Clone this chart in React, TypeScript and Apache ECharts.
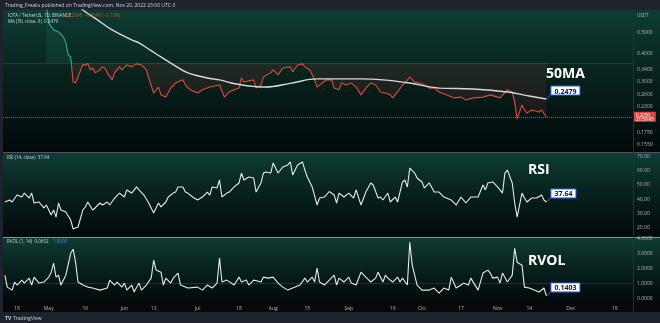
import React, { useEffect, useRef } from "react";
import * as echarts from "echarts";

// Day offsets are counted from 18 Apr 2022 (day 0); daily candles.
const timeTickDays = [0, 13, 28, 44, 56, 74, 91, 105, 119, 136, 154, 166, 182, 197, 210, 227, 245];
const timeTickLabels = ["18", "May", "16", "Jun", "13", "Jul", "18", "Aug", "15", "Sep", "19", "Oct", "17", "Nov", "14", "Dec", "19"];

const priceTicks = [0.155, 0.175, 0.23, 0.26, 0.3, 0.34, 0.4, 0.5];
const rsiTicks = [20, 30, 40, 50, 60, 70];
const rvolTicks = [0, 1, 2, 3, 4];

// [day, close] IOTA / TetherUS
const pricePoints: [number, number][] = [
  [12, 0.66], [13, 0.55], [15, 0.51], [17, 0.5], [19, 0.475], [20, 0.446], [21, 0.393], [22, 0.385],
  [23, 0.296], [24, 0.293], [25, 0.312], [27, 0.357], [28, 0.352], [29, 0.36], [30, 0.336], [31, 0.343],
  [32, 0.326], [34, 0.336], [35, 0.347], [36, 0.343], [37, 0.326], [39, 0.303], [40, 0.326], [42, 0.347],
  [43, 0.336], [45, 0.354], [47, 0.347], [49, 0.358], [51, 0.354], [53, 0.336], [56, 0.264], [58, 0.281],
  [59, 0.259], [61, 0.253], [63, 0.278], [65, 0.293], [68, 0.303], [69, 0.287], [71, 0.273], [74, 0.264],
  [76, 0.273], [79, 0.281], [83, 0.287], [85, 0.253], [87, 0.267], [89, 0.273], [91, 0.278], [92, 0.309],
  [93, 0.296], [97, 0.303], [98, 0.278], [100, 0.287], [101, 0.312], [104, 0.326], [105, 0.336], [107, 0.319],
  [109, 0.343], [112, 0.347], [113, 0.329], [115, 0.354], [117, 0.358], [118, 0.347], [120, 0.336], [122, 0.303],
  [123, 0.281], [125, 0.293], [127, 0.303], [129, 0.303], [130, 0.278], [132, 0.273], [133, 0.293], [135, 0.287],
  [137, 0.293], [139, 0.281], [141, 0.259], [143, 0.278], [145, 0.293], [147, 0.287], [149, 0.267], [151, 0.264],
  [153, 0.259], [154, 0.251], [156, 0.267], [158, 0.287], [159, 0.293], [161, 0.312], [163, 0.296], [165, 0.293],
  [167, 0.287], [169, 0.278], [171, 0.278], [173, 0.267], [176, 0.259], [179, 0.251], [182, 0.253], [184, 0.2455],
  [187, 0.251], [191, 0.253], [194, 0.259], [197, 0.253], [198, 0.251], [201, 0.273], [203, 0.267], [204, 0.24],
  [205, 0.201], [207, 0.233], [208, 0.221], [209, 0.214], [211, 0.221], [214, 0.2165], [215, 0.221], [217, 0.205],
];

// [day, MA(50)]
const ma50Points: [number, number][] = [
  [25, 0.665], [27, 0.629], [33, 0.567], [39, 0.511], [47, 0.46], [50, 0.446], [55, 0.411], [59, 0.385],
  [65, 0.35], [70, 0.326], [78, 0.309], [83, 0.303], [90, 0.29], [102, 0.281], [112, 0.292], [123, 0.306],
  [141, 0.306], [150, 0.303], [161, 0.293], [173, 0.278], [187, 0.2755], [201, 0.267], [210, 0.256], [217, 0.2479],
];

// [day, RSI(14)]
const rsiPoints: [number, number][] = [
  [-5, 37.6], [-3, 39.0], [-2, 37.6], [0, 42.5], [2, 41.1], [3, 43.9], [5, 40.4], [6, 43.9], [7, 36.9], [9, 37.6],
  [11, 33.4], [12, 35.5], [14, 28.5], [15, 32.0], [16, 27.0], [17, 36.9], [18, 32.0], [20, 30.6], [22, 24.9],
  [23, 18.6], [25, 20.0], [27, 32.0], [28, 34.1], [29, 37.6], [31, 32.0], [32, 33.4], [34, 36.9], [35, 35.5],
  [37, 37.6], [38, 35.5], [40, 40.4], [42, 43.9], [44, 41.1], [45, 46.1], [47, 43.9], [49, 48.2], [50, 46.1],
  [52, 42.5], [54, 36.9], [56, 29.9], [57, 33.4], [58, 36.9], [59, 34.1], [61, 37.6], [62, 41.1], [64, 43.9],
  [65, 44.6], [66, 48.2], [68, 48.2], [69, 44.6], [70, 43.9], [72, 41.1], [74, 39.0], [76, 41.1], [78, 44.6],
  [79, 42.5], [80, 48.2], [82, 47.5], [83, 53.1], [84, 41.1], [86, 43.9], [87, 44.6], [89, 48.2], [91, 51.0],
  [92, 58.0], [93, 53.1], [95, 55.2], [97, 54.5], [98, 44.6], [100, 51.0], [101, 58.0], [102, 58.7], [104, 58.0],
  [105, 65.1], [107, 58.0], [109, 62.3], [111, 63.7], [112, 65.8], [113, 56.6], [115, 63.7], [117, 65.8],
  [118, 60.1], [119, 55.2], [121, 48.2], [123, 35.5], [124, 40.4], [126, 41.1], [128, 45.0], [130, 42.5],
  [131, 36.9], [132, 43.9], [134, 41.1], [136, 43.9], [138, 40.4], [139, 46.1], [141, 35.5], [143, 44.6],
  [145, 51.0], [146, 49.6], [148, 40.4], [149, 41.1], [150, 39.0], [152, 43.9], [153, 37.6], [155, 41.1],
  [156, 37.6], [158, 51.7], [159, 53.1], [160, 48.2], [161, 61.5], [163, 58.0], [164, 54.5], [166, 51.7],
  [167, 47.5], [169, 51.0], [171, 44.6], [173, 44.6], [175, 41.1], [178, 39.0], [180, 35.5], [182, 41.1],
  [184, 36.9], [186, 41.1], [189, 41.1], [191, 49.6], [192, 46.1], [193, 51.0], [195, 51.7], [197, 48.2],
  [199, 43.9], [200, 58.0], [201, 60.1], [203, 51.0], [204, 36.9], [205, 27.0], [207, 43.9], [208, 40.4],
  [209, 37.6], [211, 40.4], [213, 40.4], [215, 42.5], [216, 39.0], [217, 37.64],
];

// [day, RVOL(1, 14)]
const rvolPoints: [number, number][] = [
  [-5, 1.53], [-4, 0.73], [-2, 0.53], [-1, 1.07], [0, 0.87], [2, 1.2], [3, 1.0], [5, 1.33], [6, 0.87], [7, 1.4],
  [9, 1.0], [11, 1.07], [13, 1.4], [14, 1.73], [15, 2.33], [16, 1.4], [17, 1.53], [18, 0.87], [20, 1.53],
  [22, 3.0], [23, 3.27], [24, 2.4], [25, 1.07], [27, 0.87], [29, 0.73], [31, 0.67], [34, 0.53], [37, 0.67],
  [38, 1.2], [40, 0.87], [41, 1.07], [43, 0.73], [44, 1.0], [45, 0.53], [47, 0.87], [48, 0.4], [50, 1.0],
  [51, 0.53], [53, 0.87], [55, 1.33], [56, 2.53], [57, 1.87], [59, 1.73], [60, 0.87], [61, 1.33], [63, 1.0],
  [64, 1.33], [66, 1.67], [67, 0.87], [70, 0.67], [74, 0.73], [76, 0.53], [78, 0.87], [80, 0.67], [82, 1.0],
  [83, 2.67], [84, 1.07], [86, 1.2], [89, 0.87], [91, 1.4], [92, 1.07], [94, 1.2], [95, 0.87], [97, 1.2],
  [100, 1.07], [101, 1.4], [103, 1.33], [105, 1.4], [107, 1.0], [109, 0.73], [111, 0.53], [113, 0.67],
  [116, 0.87], [118, 1.33], [119, 1.07], [121, 1.4], [122, 1.07], [123, 2.0], [124, 1.07], [126, 0.87],
  [128, 1.2], [130, 1.53], [131, 0.87], [132, 1.33], [134, 1.07], [136, 1.4], [137, 1.0], [139, 0.87],
  [141, 1.73], [143, 1.4], [145, 1.07], [147, 1.33], [148, 1.73], [150, 1.07], [151, 1.53], [152, 1.33],
  [154, 1.07], [156, 1.4], [157, 1.07], [158, 1.33], [160, 0.87], [161, 3.73], [162, 2.2], [163, 1.53],
  [164, 0.87], [166, 0.53], [169, 0.53], [171, 0.67], [173, 0.33], [175, 0.67], [177, 0.53], [178, 1.4],
  [180, 0.67], [182, 0.87], [183, 1.0], [185, 0.87], [186, 1.33], [189, 0.53], [191, 1.67], [193, 1.87],
  [194, 1.67], [195, 1.33], [197, 1.4], [198, 1.0], [199, 1.67], [201, 1.07], [203, 1.53], [204, 3.33],
  [205, 2.4], [207, 2.2], [208, 0.73], [210, 0.67], [212, 0.53], [214, 0.4], [216, 0.67], [217, 0.1403],
];

const LAST_PRICE = 0.205;
const BASELINE = 0.3615;

const GREEN = "#2fae92";
const RED = "#dc4a42";
const FONT = '"Open Sans", "DejaVu Sans", sans-serif';

export default function App() {
  const ref = useRef<HTMLDivElement>(null);

  useEffect(() => {
    const el = ref.current;
    if (!el) return;
    const chart = echarts.init(el, null, { renderer: "svg" });

    const xMin = -5.75;
    const xMax = 252.5;
    const grids = [
      { left: 3, right: 27, top: 10, height: 142 },
      { left: 3, right: 27, top: 153, height: 84 },
      { left: 3, right: 27, top: 238, height: 64 },
    ];
    const axisLabelBase = {
      color: "#b2b5be",
      fontSize: 5,
      fontFamily: FONT,
      margin: 4,
      showMinLabel: true,
      showMaxLabel: true,
    };
    const xAxes = grids.map((_, i) => ({
      type: "value",
      gridIndex: i,
      min: xMin,
      max: xMax,
      axisLine: { show: false },
      axisTick: { show: false },
      splitLine: { show: false },
      axisLabel:
        i === 2
          ? {
              ...axisLabelBase,
              margin: 3,
              customValues: timeTickDays,
              formatter: (v: number) => {
                const k = timeTickDays.indexOf(Math.round(v));
                return k >= 0 ? timeTickLabels[k] : "";
              },
            }
          : { show: false },
    }));
    const yCommon = {
      type: "value",
      position: "right",
      axisLine: { show: false },
      axisTick: { show: false },
      splitLine: { show: false },
    };
    const RVOL_MAX = 4.02;
    // the top RVOL tick sits on the pane edge, so it is drawn separately below
    const rvolInner = rvolTicks.filter((v) => v < 4);
    const rvolTop = rvolTicks.filter((v) => v >= 4);
    const yAxes = [
      {
        ...yCommon,
        gridIndex: 0,
        min: Math.log(0.1425),
        max: Math.log(0.629),
        axisLabel: {
          ...axisLabelBase,
          customValues: priceTicks.map((p) => Math.log(p)),
          formatter: (v: number) => Math.exp(v).toFixed(4),
        },
      },
      {
        ...yCommon,
        gridIndex: 1,
        min: 12.96,
        max: 72.1,
        axisLabel: { ...axisLabelBase, customValues: rsiTicks, formatter: (v: number) => v.toFixed(2) },
      },
      {
        ...yCommon,
        gridIndex: 2,
        min: -0.267,
        max: RVOL_MAX,
        axisLabel: { ...axisLabelBase, customValues: rvolInner, formatter: (v: number) => v.toFixed(4) },
      },
    ];

    chart.setOption({
      animation: false,
      backgroundColor: "transparent",
      grid: grids,
      xAxis: xAxes,
      yAxis: yAxes,
      visualMap: {
        type: "piecewise",
        show: false,
        seriesIndex: 0,
        dimension: 1,
        pieces: [
          { gt: Math.log(BASELINE), lte: Math.log(2), color: GREEN },
          { gt: Math.log(0.05), lte: Math.log(BASELINE), color: RED },
        ],
      },
      series: [
        {
          type: "line",
          xAxisIndex: 0,
          yAxisIndex: 0,
          data: pricePoints.map(([d, p]) => [d, Math.log(p)]),
          symbol: "none",
          lineStyle: { width: 1.1 },
          areaStyle: { origin: Math.log(BASELINE), opacity: 0.1 },
          silent: true,
          z: 3,
          markLine: {
            silent: true,
            symbol: ["none", "none"],
            data: [
              {
                yAxis: Math.log(BASELINE),
                lineStyle: { color: "rgba(255,255,255,0.10)", type: "solid", width: 1 },
                label: { show: false },
              },
              {
                yAxis: Math.log(LAST_PRICE),
                lineStyle: { color: "#c9453d", type: "dotted", width: 1 },
                label: {
                  show: true,
                  position: "end",
                  distance: 1,
                  formatter: LAST_PRICE.toFixed(4) + "\n21:59:45",
                  color: "#ffffff",
                  fontSize: 4.5,
                  lineHeight: 4.5,
                  fontFamily: FONT,
                  backgroundColor: "#e0453f",
                  padding: [1, 2, 0, 2],
                },
              },
            ],
          },
        },
        {
          type: "line",
          xAxisIndex: 0,
          yAxisIndex: 0,
          data: ma50Points.map(([d, p]) => [d, Math.log(p)]),
          symbol: "none",
          smooth: 0.4,
          lineStyle: { width: 1.4, color: "#d6d9dc" },
          itemStyle: { color: "#d6d9dc" },
          silent: true,
          z: 4,
        },
        {
          type: "line",
          xAxisIndex: 1,
          yAxisIndex: 1,
          data: rsiPoints,
          symbol: "none",
          lineStyle: { width: 1.1, color: "#e8e8e8" },
          itemStyle: { color: "#e8e8e8" },
          silent: true,
        },
        {
          type: "line",
          xAxisIndex: 2,
          yAxisIndex: 2,
          data: rvolPoints,
          symbol: "none",
          lineStyle: { width: 1.1, color: "#e8e8e8" },
          itemStyle: { color: "#e8e8e8" },
          silent: true,
          markLine: {
            silent: true,
            symbol: ["none", "none"],
            label: { show: false },
            lineStyle: { color: "rgba(255,255,255,0.12)", type: "solid", width: 1 },
            data: [{ yAxis: 1 }],
          },
        },
      ],
    });

    const paneGrad = () =>
      new echarts.graphic.LinearGradient(0, 0, 0, 1, [
        { offset: 0, color: "#0e3c33" },
        { offset: 0.5, color: "#07201b" },
        { offset: 1, color: "#02090a" },
      ]);
    const txt = (text: string, x: number, y: number, fill: string, size = 5, weight = "normal", z = 20) => ({
      type: "text",
      z,
      silent: true,
      style: { text, x, y, fill, font: `${weight} ${size}px ${FONT}`, verticalAlign: "middle", align: "left" },
    });

    const lastMA = ma50Points[ma50Points.length - 1];
    const lastRSI = rsiPoints[rsiPoints.length - 1];
    const lastRVOL = rvolPoints[rvolPoints.length - 1];
    const pMA = chart.convertToPixel({ xAxisIndex: 0, yAxisIndex: 0 }, [lastMA[0], Math.log(lastMA[1])]) as number[];
    const pRSI = chart.convertToPixel({ xAxisIndex: 1, yAxisIndex: 1 }, lastRSI) as number[];
    const pRVOL = chart.convertToPixel({ xAxisIndex: 2, yAxisIndex: 2 }, lastRVOL) as number[];

    const topTickLabels = rvolTop.map((v) => {
      const y = chart.convertToPixel({ yAxisIndex: 2 }, v) as number;
      return txt(v.toFixed(4), 637, y, "#b2b5be", 5, "normal", 1);
    });

    const callout = (p: number[], text: string) => ({
      type: "group",
      z: 30,
      silent: true,
      children: [
        {
          type: "line",
          shape: { x1: p[0], y1: p[1], x2: p[0] + 5, y2: p[1] - 5 },
          style: { stroke: "#2962ff", lineWidth: 1 },
        },
        {
          type: "text",
          style: {
            text,
            x: p[0] + 5,
            y: p[1] - 4.5,
            fill: "#131722",
            font: `bold 7px ${FONT}`,
            align: "left",
            verticalAlign: "bottom",
            backgroundColor: "#ffffff",
            borderColor: "#2962ff",
            borderWidth: 1,
            padding: [1, 3, 0, 3],
          },
        },
      ],
    });

    chart.setOption({
      graphic: [
        { type: "rect", z: -20, silent: true, shape: { x: 0, y: 0, width: 660, height: 323 }, style: { fill: "#1e222d" } },
        { type: "rect", z: -19, silent: true, shape: { x: 3, y: 10, width: 657, height: 142 }, style: { fill: paneGrad() } },
        { type: "rect", z: -19, silent: true, shape: { x: 3, y: 153, width: 657, height: 84 }, style: { fill: paneGrad() } },
        { type: "rect", z: -19, silent: true, shape: { x: 3, y: 238, width: 657, height: 64 }, style: { fill: paneGrad() } },
        { type: "rect", z: -19, silent: true, shape: { x: 3, y: 302, width: 657, height: 10 }, style: { fill: "#070909" } },
        { type: "line", z: -5, silent: true, shape: { x1: 3, y1: 152.5, x2: 660, y2: 152.5 }, style: { stroke: "#50545b", lineWidth: 1 } },
        { type: "line", z: -5, silent: true, shape: { x1: 3, y1: 237.5, x2: 660, y2: 237.5 }, style: { stroke: "#8d9096", lineWidth: 1 } },
        { type: "line", z: -5, silent: true, shape: { x1: 633.5, y1: 10, x2: 633.5, y2: 312 }, style: { stroke: "#2a2e39", lineWidth: 1 } },
        ...topTickLabels,
        txt("Trading_Freaks published on TradingView.com, Nov 20, 2022 23:00 UTC-3", 5, 5, "#d1d4dc", 5),
        txt("IOTA / TetherUS, 1D, BINANCE", 8, 15, "#d1d4dc", 4.5),
        txt("0.2095  \u22120.0045 (\u22122.15%)", 68, 15, "#e0453f", 4.5),
        txt("MA (50, close, 0)  0.2479", 8, 21, "#d1d4dc", 4.5),
        txt("RSI (14, close)  37.64", 7, 157, "#d1d4dc", 4.5),
        txt("RVOL (1, 14)  0.0602", 7, 241, "#d1d4dc", 4.5),
        txt("1.0000", 53, 241, "#2a9df4", 4.5),
        txt("USDT", 637, 15, "#b2b5be", 4.5),
        txt("50MA", 546, 72.5, "#ffffff", 14, "bold"),
        txt("RSI", 528, 168, "#ffffff", 14, "bold"),
        txt("RVOL", 528, 259, "#ffffff", 14, "bold"),
        txt("TV", 5, 318, "#d1d4dc", 5, "bold"),
        txt("TradingView", 13, 318, "#d1d4dc", 5),
        callout(pMA, lastMA[1].toFixed(4)),
        callout(pRSI, lastRSI[1].toFixed(2)),
        callout(pRVOL, lastRVOL[1].toFixed(4)),
      ],
    });

    return () => chart.dispose();
  }, []);

  return <div ref={ref} style={{ position: "fixed", left: 0, top: 0, width: 660, height: 323 }} />;
}
